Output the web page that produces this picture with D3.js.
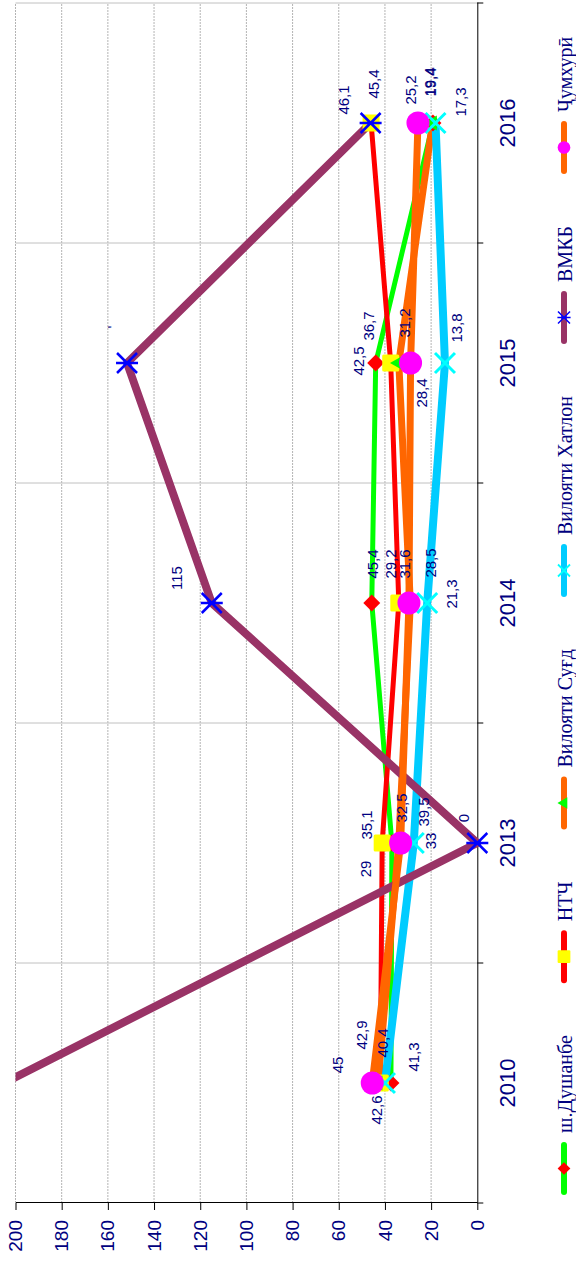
<!DOCTYPE html>
<html>
<head>
<meta charset="utf-8">
<script src="https://cdn.jsdelivr.net/npm/d3@7"></script>
<style>
  body { margin: 0; background: #fff; }
  svg { display: block; }
</style>
</head>
<body>
<svg id="chart" width="576" height="1262"></svg>
<script>
// data
const years = ["2010", "2013", "2014", "2015", "2016"];
const valueTicks = [0, 20, 40, 60, 80, 100, 120, 140, 160, 180, 200];

const dushanbe = [37.4, 37, 45.7, 44, 19.2];
const ntch = [42, 41.2, 34, 37.5, 46];
const sughd = [43, 34, 29, 34, 19.4];
const khatlon = [40, 27.5, 21.7, 14, 18.1];
const vmkb = [205, 0, 115, 151.7, 46.2];
const jumhuri = [45.5, 33.2, 29.6, 28.9, 25.7];

const dushanbeLabels = ["41,3", "35,1", "45,4", "42,5", "19,4"];
const ntchLabels = ["45", "29", "31,6", "36,7", "45,4"];
const sughdLabels = ["42,9", "32,5", "28,5", "31,2", "19,4"];
const khatlonLabels = ["40,4", "33", "21,3", "13,8", "17,3"];
const vmkbLabels = [null, "0", "115", "'", "46,1"];
const jumhuriLabels = ["42,6", "39,5", "29,2", "28,4", "25,2"];

// where each data label sits, relative to its point (chart frame px)
const labelOffsets = {
    dushanbe: [[26, 23], [18, -25], [39, 1], [2, -17], [41, -3]],
    ntch: [[18, -43], [-26, -17], [39, 6], [37, -22], [39, 2]],
    sughd: [[48, -17], [35, 3], [40, 20], [40, 6], [41, -2.5]],
    khatlon: [[40, -2], [2, 17], [9, 24], [35, 12], [21, 25]],
    vmkb: [[0, 0], [25, -13.5], [25, -35], [36, -15], [23, -27]],
    jumhuri: [[-27, 4], [31, 23], [39, -18], [-30, 11], [33, -7]]
};

const series = [
    { key: "dushanbe", name: "ш.Душанбе", values: dushanbe, labels: dushanbeLabels, line: "#00ff00", lw: 5, marker: "diamond", mcolor: "#ff0000" },
    { key: "ntch", name: "НТЧ", values: ntch, labels: ntchLabels, line: "#ff0000", lw: 5, marker: "square", mcolor: "#ffff00" },
    { key: "sughd", name: "Вилояти Суғд", values: sughd, labels: sughdLabels, line: "#ff6600", lw: 7, marker: "triangle", mcolor: "#00ff00" },
    { key: "khatlon", name: "Вилояти Хатлон", values: khatlon, labels: khatlonLabels, line: "#00ccff", lw: 8, marker: "x", mcolor: "#00ffff" },
    { key: "vmkb", name: "ВМКБ", values: vmkb, labels: vmkbLabels, line: "#993366", lw: 8, marker: "star", mcolor: "#0000ff" },
    { key: "jumhuri", name: "Ҷумхурӣ", values: jumhuri, labels: jumhuriLabels, line: "#ff6600", lw: 7, marker: "circle", mcolor: "#ff00ff" }
];

// chart is laid out landscape and turned a quarter to the left
const W = 1262;
const plotLeft = 59, plotRight = 1259, plotTop = 15.5, plotBottom = 477.3;
const textColor = "#000080";

const svg = d3.select("#chart");
const g = svg.append("g").attr("transform", "translate(0," + W + ") rotate(-90)");

const xScale = d3.scaleBand().domain(years).range([plotLeft, plotRight]);
const yScale = d3.scaleLinear().domain([0, 200]).range([plotBottom, plotTop]);

// value gridlines
g.append("g")
    .selectAll("line")
    .data(valueTicks.filter(d => d > 0))
    .join("line")
    .attr("x1", plotLeft).attr("x2", plotRight)
    .attr("y1", d => yScale(d)).attr("y2", d => yScale(d))
    .attr("stroke", "#b4b4b4")
    .attr("stroke-width", 1)
    .attr("stroke-dasharray", "2,1");

// category gridlines at band edges
const edges = years.map(d => xScale(d)).concat([plotRight]);
g.append("g")
    .selectAll("line")
    .data(edges.slice(1))
    .join("line")
    .attr("x1", d => d).attr("x2", d => d)
    .attr("y1", plotTop).attr("y2", plotBottom)
    .attr("stroke", "#c0c0c0")
    .attr("stroke-width", 1);

// value axis
const leftAxis = d3.axisLeft(yScale).tickValues(valueTicks).tickSize(7).tickSizeOuter(0).tickPadding(10);
const gy = g.append("g").attr("transform", "translate(" + plotLeft + ",0)").call(leftAxis);
gy.selectAll("text").attr("fill", textColor).style("font", "19px Arial, 'Liberation Sans', sans-serif");
gy.selectAll("line, path").attr("stroke", "#000");

// category axis: line, boundary ticks, centred labels
const bottomAxis = d3.axisBottom(xScale).tickSize(0).tickPadding(22).tickSizeOuter(0);
const gx = g.append("g").attr("transform", "translate(0," + plotBottom + ")").call(bottomAxis);
gx.select("path").attr("stroke", "#000");
gx.selectAll("text").attr("fill", textColor).style("font", "22px Arial, 'Liberation Sans', sans-serif");
gx.selectAll(".edge")
    .data(edges)
    .join("line")
    .attr("class", "edge")
    .attr("x1", d => d).attr("x2", d => d)
    .attr("y1", 0).attr("y2", 6)
    .attr("stroke", "#000");

// lines
g.append("clipPath").attr("id", "plotclip")
    .append("rect")
    .attr("x", plotLeft).attr("y", plotTop)
    .attr("width", plotRight - plotLeft).attr("height", plotBottom - plotTop + 10);

const lineGen = d3.line()
    .x((d, i) => xScale(years[i]) + xScale.bandwidth() / 2)
    .y(d => yScale(d));

g.append("g").attr("clip-path", "url(#plotclip)")
    .selectAll("path")
    .data(series)
    .join("path")
    .attr("d", d => lineGen(d.values))
    .attr("fill", "none")
    .attr("stroke", d => d.line)
    .attr("stroke-width", d => d.lw)
    .attr("stroke-linejoin", "round");

// markers
function drawMarker(sel, type, color) {
    if (type === "diamond") {
        sel.append("rect").attr("x", -6).attr("y", -6).attr("width", 12).attr("height", 12)
            .attr("transform", "rotate(45)").attr("fill", color);
    } else if (type === "square") {
        sel.append("rect").attr("x", -8.5).attr("y", -8.5).attr("width", 17).attr("height", 17)
            .attr("rx", 1.5).attr("fill", color);
    } else if (type === "triangle") {
        sel.append("path").attr("d", d3.symbol(d3.symbolTriangle, 100)).attr("fill", color);
    } else if (type === "circle") {
        sel.append("circle").attr("r", 11.5).attr("fill", color);
    } else if (type === "x") {
        sel.append("path").attr("d", "M-10,-10L10,10M-10,10L10,-10")
            .attr("stroke", color).attr("stroke-width", 3).attr("fill", "none");
    } else if (type === "star") {
        sel.append("path").attr("d", "M-10,-10L10,10M-10,10L10,-10M0,-11L0,11")
            .attr("stroke", color).attr("stroke-width", 2.5).attr("fill", "none");
    }
}

series.forEach(s => {
    s.values.forEach((v, i) => {
        if (v > 200) return;
        const m = g.append("g")
            .attr("transform", "translate(" + (xScale(years[i]) + xScale.bandwidth() / 2) + "," + yScale(v) + ")");
        drawMarker(m, s.marker, s.mcolor);
    });
});

// data labels
series.forEach(s => {
    s.values.forEach((v, i) => {
        if (s.labels[i] == null) return;
        const off = labelOffsets[s.key][i];
        g.append("text")
            .attr("x", xScale(years[i]) + xScale.bandwidth() / 2 + off[0])
            .attr("y", yScale(v) + off[1])
            .attr("text-anchor", "middle")
            .attr("dominant-baseline", "central")
            .attr("fill", textColor)
            .style("font", "15px Arial, 'Liberation Sans', sans-serif")
            .text(s.labels[i]);
    });
});

// legend along the bottom of the chart frame
const legendScale = { circle: 0.55, star: 0.6, x: 0.6 };
const legend = g.append("g").attr("transform", "translate(67,564)");
let lx = 0;
series.forEach(s => {
    const item = legend.append("g").attr("transform", "translate(" + lx + ",0)");
    item.append("line")
        .attr("x1", 3).attr("x2", 50).attr("y1", 0).attr("y2", 0)
        .attr("stroke", s.line).attr("stroke-width", 6).attr("stroke-linecap", "round");
    const m = item.append("g")
        .attr("transform", "translate(26.5,0) scale(" + (legendScale[s.marker] || 0.75) + ")");
    drawMarker(m, s.marker, s.mcolor);
    const t = item.append("text")
        .attr("x", 62).attr("y", 8)
        .attr("fill", textColor)
        .style("font", "20px 'Liberation Serif', 'Times New Roman', serif")
        .text(s.name);
    lx += 62 + t.node().getComputedTextLength() + 52;
});
</script>
</body>
</html>
